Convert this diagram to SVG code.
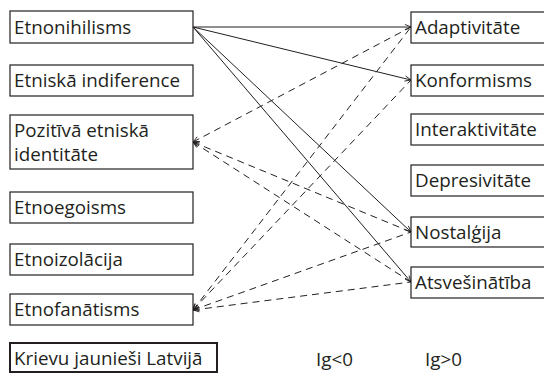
<svg xmlns="http://www.w3.org/2000/svg" width="544" height="377" viewBox="0 0 544 377">
  <style>
    .box { fill: #fff; stroke: #231f20; stroke-width: 1.2; }
    .key { fill: #fff; stroke: #231f20; stroke-width: 2; }
    .lbl { font-family: "Open Sans", "Noto Sans", sans-serif; font-size: 18.8px; fill: #231f20; }
    .solid { stroke: #231f20; stroke-width: 1; fill: none; marker-end: url(#head); }
    .dash { stroke: #231f20; stroke-width: 1; fill: none; stroke-dasharray: 7 5; marker-start: url(#head); }
  </style>
  <defs>
    <marker id="head" markerUnits="userSpaceOnUse" viewBox="0 0 8 8" refX="8" refY="4" markerWidth="7" markerHeight="7" orient="auto-start-reverse">
      <path d="M1,1 L8,4 L1,7" fill="none" stroke="#231f20" stroke-width="1"/>
    </marker>
  </defs>
  <rect width="544" height="377" fill="#fff"/>

  <!-- connectors -->
  <g id="connectors">
    <!-- Etnonihilisms links -->
    <line class="solid" x1="193" y1="27" x2="411" y2="27"/>
    <line class="solid" x1="193" y1="27" x2="411" y2="80"/>
    <line class="solid" x1="193" y1="27" x2="411" y2="232"/>
    <line class="solid" x1="193" y1="27" x2="411" y2="282"/>
    <!-- Pozitīvā etniskā identitāte links -->
    <line class="dash" x1="193" y1="142" x2="411" y2="27"/>
    <line class="dash" x1="193" y1="142" x2="411" y2="232"/>
    <line class="dash" x1="193" y1="142" x2="411" y2="282"/>
    <!-- Etnofanātisms links -->
    <line class="dash" x1="193" y1="310" x2="411" y2="27"/>
    <line class="dash" x1="193" y1="310" x2="411" y2="80"/>
    <line class="dash" x1="193" y1="310" x2="411" y2="232"/>
    <line class="dash" x1="193" y1="310" x2="411" y2="282"/>
  </g>

  <!-- left column -->
  <g id="etnonihilisms">
    <rect class="box" x="10" y="11" width="183" height="32"/>
    <text class="lbl" x="14" y="34">Etnonihilisms</text>
  </g>
  <g id="etniska-indiference">
    <rect class="box" x="10" y="65" width="183" height="31"/>
    <text class="lbl" x="14" y="87">Etniskā indiference</text>
  </g>
  <g id="pozitiva-identitate">
    <rect class="box" x="10" y="115" width="183" height="54"/>
    <text class="lbl" x="14" y="137">Pozitīvā etniskā</text>
    <text class="lbl" x="14" y="161">identitāte</text>
  </g>
  <g id="etnoegoisms">
    <rect class="box" x="10" y="192" width="183" height="31"/>
    <text class="lbl" x="14" y="214">Etnoegoisms</text>
  </g>
  <g id="etnoizolacija">
    <rect class="box" x="10" y="244" width="183" height="31"/>
    <text class="lbl" x="14" y="266">Etnoizolācija</text>
  </g>
  <g id="etnofanatisms">
    <rect class="box" x="10" y="294" width="183" height="31"/>
    <text class="lbl" x="14" y="316">Etnofanātisms</text>
  </g>

  <!-- right column -->
  <g id="adaptivitate">
    <rect class="box" x="411" y="12" width="150" height="31"/>
    <text class="lbl" x="415" y="34">Adaptivitāte</text>
  </g>
  <g id="konformisms">
    <rect class="box" x="411" y="65" width="150" height="31"/>
    <text class="lbl" x="415" y="87">Konformisms</text>
  </g>
  <g id="interaktivitate">
    <rect class="box" x="411" y="114" width="150" height="31"/>
    <text class="lbl" x="415" y="136">Interaktivitāte</text>
  </g>
  <g id="depresivitate">
    <rect class="box" x="411" y="165" width="150" height="31"/>
    <text class="lbl" x="415" y="187">Depresivitāte</text>
  </g>
  <g id="nostalgija">
    <rect class="box" x="411" y="217" width="150" height="30"/>
    <text class="lbl" x="415" y="239">Nostalģija</text>
  </g>
  <g id="atsvesinatiba">
    <rect class="box" x="411" y="267" width="150" height="31"/>
    <text class="lbl" x="415" y="289">Atsvešinātība</text>
  </g>

  <!-- legend -->
  <g id="legend">
    <rect class="key" x="10" y="343" width="207" height="29"/>
    <text class="lbl" x="14" y="365">Krievu jaunieši Latvijā</text>
    <text class="lbl" x="316" y="366">Ig&lt;0</text>
    <text class="lbl" x="425" y="366">Ig&gt;0</text>
  </g>
</svg>
